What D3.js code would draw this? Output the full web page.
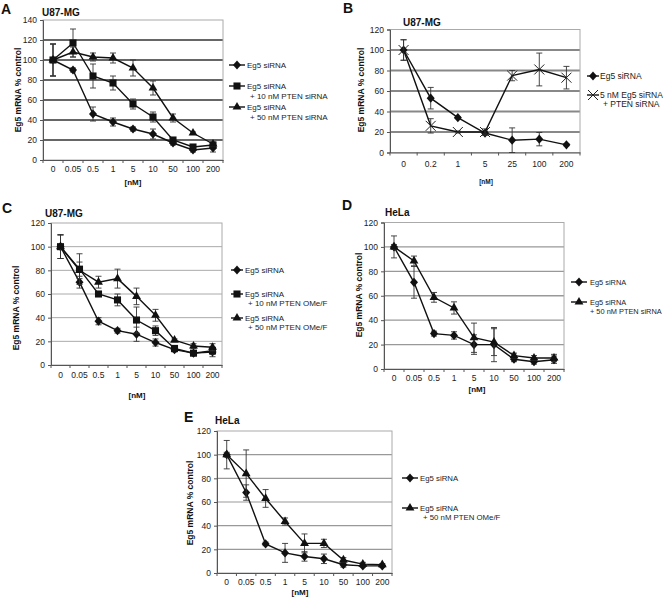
<!DOCTYPE html>
<html><head><meta charset="utf-8">
<script src="https://cdn.jsdelivr.net/npm/d3@7"></script>
<style>
body{margin:0;background:#fff;}
svg{display:block;font-family:"Liberation Sans",Arial,sans-serif;}
</style></head>
<body><svg id="c" width="663" height="597"></svg>
<script>
// ---- data ----
const catsDose = ["0","0.05","0.5","1","5","10","50","100","200"];
const catsB = ["0","0.2","1","5","25","100","200"];
const yTicks120 = [0,20,40,60,80,100,120];
const yTicks140 = [0,20,40,60,80,100,120,140];

const aEg5 = [100,90,46,38,31,26,17,10,12];
const aEg5Err = [16,2,7,4,2,5,2,2,4];
const aPten10 = [100,117,84,77,56,43,20,13,15];
const aPten10Err = [16,14,12,7,5,5,2,2,2];
const aPten50 = [100,108,103,102,92,72,42,27,16];
const aPten50Err = [16,5,4,5,8,7,4,1,2];

const bEg5 = [100,53,34,19,12,13,7.5];
const bEg5Err = [10,10.5,1,2,12,6.5,1];
const bPten = [100,26,20,20,75,81,73];
const bPtenErr = [10,7,1,3,5,16,11];

const cEg5 = [100,70,37,29,26,19,13,10,11];
const cEg5Err = [10,5,3,2,6,3,2,2,4];
const cOme10 = [100,81,60,55,38,29,14,10,12];
const cOme10Err = [10,13,1,5,11,4,2,2,3];
const cOme50 = [100,80,70,73,58,42,21,16,15];
const cOme50Err = [10,7,5,8,7,5,1,2,3];

const dEg5 = [100,71,29,27.5,20,20,8,6,7.6];
const dEg5Err = [9,13,2,3,8,14,2,2,3];
const dPten50 = [100,88.5,58.7,50,25.6,22,11,9,9];
const dPten50Err = [2,4,4,5,12,11,2,2,3];

const eEg5 = [100,68,24.6,17,14,12,7,6,6];
const eEg5Err = [12,6.5,1.5,8,4,4,2,1,1];
const eOme50 = [100,84,63,43.5,25,25,11,7.5,7];
const eOme50Err = [2,20,7.5,3,8,3.5,2,1.5,1];

const svg = d3.select("#c");

function markerPath(type){
  if(type==="diamond") return "M0,-4.6L4,0L0,4.6L-4,0Z";
  if(type==="square") return d3.symbol().type(d3.symbolSquare).size(50)();
  if(type==="triangle") return d3.symbol().type(d3.symbolTriangle).size(34)();
  if(type==="x") return "M-5,-5L5,5M-5,5L5,-5";
  return "";
}
function drawMarker(g,type,x,y){
  const p = g.append("path").attr("d",markerPath(type)).attr("transform",`translate(${x},${y})`);
  if(type==="x") p.attr("fill","none").attr("stroke","#222").attr("stroke-width",1);
  else p.attr("fill","#111");
}

function panel(cfg){
  const g = svg.append("g");
  const x = d3.scaleBand().domain(cfg.cats).range([cfg.x0,cfg.x1]);
  const y = d3.scaleLinear().domain([0,cfg.ymax]).range([cfg.y0,cfg.y1]);
  g.append("g").selectAll("line").data(cfg.ticks.filter(t=>t>0 && t<cfg.ymax)).join("line")
    .attr("x1",cfg.x0).attr("x2",cfg.x1).attr("y1",d=>y(d)).attr("y2",d=>y(d))
    .attr("stroke",cfg.gridColor).attr("stroke-width",cfg.gridW);
  g.append("rect").attr("x",cfg.x0).attr("y",cfg.y1).attr("width",cfg.x1-cfg.x0).attr("height",cfg.y0-cfg.y1)
    .attr("fill","none").attr("stroke","#aaa").attr("stroke-width",1);
  const ya = g.append("g").attr("transform",`translate(${cfg.x0},0)`)
    .call(d3.axisLeft(y).tickValues(cfg.ticks).tickSize(3).tickPadding(3));
  const xa = g.append("g").attr("transform",`translate(0,${cfg.y0})`)
    .call(d3.axisBottom(x).tickSize(0).tickPadding(cfg.xPad));
  [ya,xa].forEach(a=>{
    a.select(".domain").attr("stroke","#555");
    a.selectAll("line").attr("stroke","#555");
    a.selectAll("text").attr("font-size",cfg.fs).attr("fill","#222").attr("font-family","Liberation Sans, Arial, sans-serif");
  });
  const edges = cfg.cats.map(c=>x(c)).concat([cfg.x1]);
  g.append("g").selectAll("line").data(edges).join("line")
    .attr("x1",d=>d).attr("x2",d=>d).attr("y1",cfg.y0).attr("y2",cfg.y0+3).attr("stroke","#555");
  const cx = c=>x(c)+x.bandwidth()/2;
  cfg.series.forEach(s=>{
    const pts = cfg.cats.map((c,i)=>({c,v:s.vals[i],e:s.err[i]}));
    const eb = g.append("g").attr("stroke","#333").attr("stroke-width",0.9);
    pts.forEach(p=>{
      const top=y(p.v+p.e), bot=y(Math.max(0,p.v-p.e)), X=cx(p.c);
      eb.append("line").attr("x1",X).attr("x2",X).attr("y1",top).attr("y2",bot);
      eb.append("line").attr("x1",X-3).attr("x2",X+3).attr("y1",top).attr("y2",top);
      eb.append("line").attr("x1",X-3).attr("x2",X+3).attr("y1",bot).attr("y2",bot);
    });
    g.append("path").datum(pts).attr("fill","none").attr("stroke","#111").attr("stroke-width",1.4)
      .attr("d",d3.line().x(p=>cx(p.c)).y(p=>y(p.v)));
    pts.forEach(p=>drawMarker(g,s.marker,cx(p.c),y(p.v)));
  });
  g.append("text").attr("x",cfg.letter[0]).attr("y",cfg.letter[1]).text(cfg.letterText)
    .attr("font-size",14).attr("font-weight","bold").attr("fill","#111");
  g.append("text").attr("x",cfg.title[0]).attr("y",cfg.title[1]).text(cfg.titleText)
    .attr("font-size",10).attr("font-weight","bold").attr("fill","#111");
  g.append("text").attr("transform",`translate(${cfg.ytitle[0]},${cfg.ytitle[1]}) rotate(-90)`)
    .attr("text-anchor","middle").text("Eg5 mRNA % control")
    .attr("font-size",8.5).attr("font-weight","bold").attr("fill","#111");
  g.append("text").attr("x",cfg.xtitle[0]).attr("y",cfg.xtitle[1]).attr("text-anchor","middle").text("[nM]")
    .attr("font-size",cfg.xtfs||8).attr("font-weight","bold").attr("fill","#111");
  cfg.legend.forEach(l=>{
    g.append("line").attr("x1",l.x-cfg.lh2).attr("x2",l.x+cfg.lh2).attr("y1",l.y).attr("y2",l.y).attr("stroke","#111").attr("stroke-width",1.4);
    drawMarker(g,l.marker,l.x,l.y);
    l.lines.forEach((t,i)=>{
      g.append("text").attr("x",l.x+cfg.lOff+(i>0?l.indent:0)).attr("y",l.y+3+i*l.lh).text(t)
        .attr("font-size",cfg.lfs).attr("fill","#222");
    });
  });
}

panel({cats:catsDose, x0:43,x1:223,y0:160,y1:20,ymax:140,ticks:yTicks140,fs:8.5,lfs:8,xPad:6,
  gridColor:"#333",gridW:1.4,lh2:8,lOff:10,
  letter:[1,14],letterText:"A",title:[42,16],titleText:"U87-MG",ytitle:[21,90],xtitle:[133,185],
  series:[{vals:aEg5,err:aEg5Err,marker:"diamond"},{vals:aPten10,err:aPten10Err,marker:"square"},{vals:aPten50,err:aPten50Err,marker:"triangle"}],
  legend:[{x:237,y:65,marker:"diamond",lines:["Eg5 siRNA"],indent:3,lh:10},
          {x:237,y:86,marker:"square",lines:["Eg5 siRNA","+ 10 nM PTEN siRNA"],indent:3,lh:10},
          {x:237,y:107,marker:"triangle",lines:["Eg5 siRNA","+ 50 nM PTEN siRNA"],indent:3,lh:10}]});

panel({cats:catsB, x0:390,x1:580,y0:152.5,y1:29.5,ymax:120,ticks:yTicks120,fs:8.5,lfs:8.5,xPad:8,xtfs:6.5,
  gridColor:"#888",gridW:1.8,lh2:6,lOff:7,
  letter:[343,13],letterText:"B",title:[403,26],titleText:"U87-MG",ytitle:[364,90],xtitle:[486,184],
  series:[{vals:bEg5,err:bEg5Err,marker:"diamond"},{vals:bPten,err:bPtenErr,marker:"x"}],
  legend:[{x:593,y:76,marker:"diamond",lines:["Eg5 siRNA"],indent:3,lh:9},
          {x:593,y:95,marker:"x",lines:["5 nM Eg5 siRNA","+ PTEN siRNA"],indent:3,lh:9}]});

panel({cats:catsDose, x0:51,x1:222,y0:365,y1:223,ymax:120,ticks:yTicks120,fs:8.5,lfs:8,xPad:7,
  gridColor:"#aaa",gridW:1,lh2:6,lOff:8,
  letter:[2,213],letterText:"C",title:[45,217],titleText:"U87-MG",ytitle:[19,308],xtitle:[137,398],
  series:[{vals:cEg5,err:cEg5Err,marker:"diamond"},{vals:cOme10,err:cOme10Err,marker:"square"},{vals:cOme50,err:cOme50Err,marker:"triangle"}],
  legend:[{x:237,y:270,marker:"diamond",lines:["Eg5 siRNA"],indent:3,lh:9},
          {x:237,y:294,marker:"square",lines:["Eg5 siRNA","+ 10 nM PTEN OMe/F"],indent:3,lh:9},
          {x:237,y:318,marker:"triangle",lines:["Eg5 siRNA","+ 50 nM PTEN OMe/F"],indent:3,lh:9}]});

panel({cats:catsDose, x0:384,x1:564,y0:369,y1:222.5,ymax:120,ticks:yTicks120,fs:8.5,lfs:7.4,xPad:6,
  gridColor:"#999",gridW:1.3,lh2:8,lOff:11,
  letter:[342,210],letterText:"D",title:[385,216],titleText:"HeLa",ytitle:[362,295],xtitle:[477,392],
  series:[{vals:dEg5,err:dEg5Err,marker:"diamond"},{vals:dPten50,err:dPten50Err,marker:"triangle"}],
  legend:[{x:579,y:282,marker:"diamond",lines:["Eg5 siRNA"],indent:0,lh:9},
          {x:579,y:302,marker:"triangle",lines:["Eg5 siRNA","+ 50 nM PTEN siRNA"],indent:0,lh:9}]});

panel({cats:catsDose, x0:217,x1:392,y0:573,y1:431,ymax:120,ticks:yTicks120,fs:8.5,lfs:7.8,xPad:6,
  gridColor:"#999",gridW:1.1,lh2:8,lOff:10,
  letter:[184,422],letterText:"E",title:[215,424],titleText:"HeLa",ytitle:[193,503],xtitle:[300,595],
  series:[{vals:eEg5,err:eEg5Err,marker:"diamond"},{vals:eOme50,err:eOme50Err,marker:"triangle"}],
  legend:[{x:410,y:478,marker:"diamond",lines:["Eg5 siRNA"],indent:3,lh:9},
          {x:410,y:508,marker:"triangle",lines:["Eg5 siRNA","+ 50 nM PTEN OMe/F"],indent:3,lh:9}]});
</script></body></html>
